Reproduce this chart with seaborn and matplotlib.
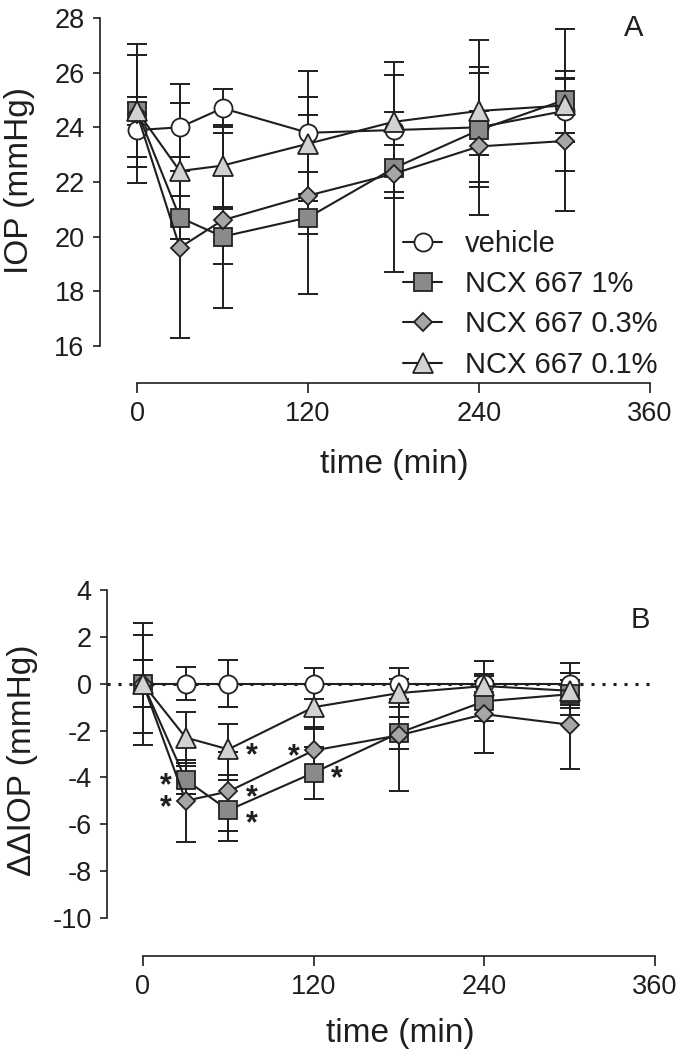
import numpy as np
import pandas as pd
import seaborn as sns
import matplotlib.pyplot as plt

sns.set_style("ticks")
plt.rcParams['font.family'] = ['Liberation Sans', 'DejaVu Sans']
plt.rcParams['axes.unicode_minus'] = False

# time points (min)
times = [0, 30, 60, 120, 180, 240, 300]
groups = ["vehicle", "NCX 667 1%", "NCX 667 0.3%", "NCX 667 0.1%"]

# panel A: IOP (mmHg), mean and error
iop_vehicle = [23.9, 24.0, 24.7, 23.8, 23.9, 24.0, 24.6]
iop_1pct = [24.6, 20.7, 20.0, 20.7, 22.5, 23.9, 25.0]
iop_03pct = [24.5, 19.6, 20.6, 21.5, 22.3, 23.3, 23.5]
iop_01pct = [24.6, 22.4, 22.6, 23.4, 24.2, 24.6, 24.8]
iop_err_vehicle = [1.0, 1.6, 0.7, 2.25, 2.5, 3.2, 1.15]
iop_err_1pct = [2.05, 0.8, 1.0, 0.6, 0.85, 2.1, 2.6]
iop_err_03pct = [2.55, 3.3, 3.2, 3.6, 3.6, 1.3, 2.55]
iop_err_01pct = [0.5, 2.5, 1.5, 1.05, 0.35, 1.6, 1.0]

# panel B: delta-delta IOP (mmHg), mean and error
dd_vehicle = [0, 0, 0, 0, 0, 0, 0]
dd_1pct = [0, -4.1, -5.4, -3.8, -2.1, -0.75, -0.45]
dd_03pct = [0, -5.0, -4.6, -2.85, -2.2, -1.3, -1.75]
dd_01pct = [0, -2.3, -2.8, -1.0, -0.4, -0.1, -0.3]
dd_err_vehicle = [2.6, 0.7, 1.0, 0.65, 0.65, 0.95, 0.9]
dd_err_1pct = [2.1, 0.6, 1.3, 1.1, 0.7, 0.85, 0.9]
dd_err_03pct = [1.0, 1.75, 1.7, 1.0, 2.4, 1.65, 1.9]
dd_err_01pct = [1.0, 1.1, 1.1, 0.95, 0.6, 0.5, 0.75]

# significance stars in panel B: (group, time, side)
stars = [("NCX 667 1%", 30, "left"), ("NCX 667 0.3%", 30, "left"),
         ("NCX 667 0.1%", 60, "right"), ("NCX 667 0.3%", 60, "right"),
         ("NCX 667 1%", 60, "right"), ("NCX 667 0.3%", 120, "left"),
         ("NCX 667 1%", 120, "right")]

styles = {
    "vehicle": dict(marker="o", markersize=13, markerfacecolor="white"),
    "NCX 667 1%": dict(marker="s", markersize=13, markerfacecolor="#8a8a8a"),
    "NCX 667 0.3%": dict(marker="D", markersize=9.5, markerfacecolor="#a6a6a6"),
    "NCX 667 0.1%": dict(marker="^", markersize=14, markerfacecolor="#d2d2d2"),
}
ink = "#1e1e1e"

dfA = pd.DataFrame({"time": times * 4,
                    "group": np.repeat(groups, len(times)),
                    "value": iop_vehicle + iop_1pct + iop_03pct + iop_01pct,
                    "err": iop_err_vehicle + iop_err_1pct + iop_err_03pct + iop_err_01pct})
dfB = pd.DataFrame({"time": times * 4,
                    "group": np.repeat(groups, len(times)),
                    "value": dd_vehicle + dd_1pct + dd_03pct + dd_01pct,
                    "err": dd_err_vehicle + dd_err_1pct + dd_err_03pct + dd_err_01pct})

W, H = 681, 1063
fig = plt.figure(figsize=(W / 100, H / 100), dpi=100)
# pixel layout of the two panels
axA = fig.add_axes([100 / W, 1 - 383 / H, 550 / W, 365 / H])
axB = fig.add_axes([107 / W, 1 - 956 / H, 548 / W, 366 / H])


def draw_panel(ax, df):
    for g in groups:
        d = df[df["group"] == g]
        ax.errorbar(d["time"], d["value"], yerr=d["err"], fmt="none",
                    ecolor=ink, elinewidth=1.4, capsize=7, capthick=1.4, zorder=2)
    for g in groups:
        d = df[df["group"] == g]
        sns.lineplot(data=d, x="time", y="value", ax=ax, color=ink, lw=1.5,
                     errorbar=None, label=g, markeredgecolor="#222222",
                     markeredgewidth=1.3, zorder=3, **styles[g])
    ax.spines["top"].set_visible(False)
    ax.spines["right"].set_visible(False)
    for s in ["left", "bottom"]:
        ax.spines[s].set_linewidth(1.2)
        ax.spines[s].set_color(ink)
    ax.spines["bottom"].set_bounds(0, 360)
    ax.set_xticks([0, 120, 240, 360])
    ax.tick_params(axis="both", width=1.2, color=ink, labelsize=19.5,
                   labelcolor=ink)
    ax.tick_params(axis="x", length=7, pad=6)
    ax.tick_params(axis="y", length=5, pad=6)
    ax.set_xlabel("time (min)", fontsize=24, color=ink)
    ax.xaxis.label.set_va("center")
    ax.yaxis.label.set_va("center")


draw_panel(axA, dfA)
axA.set_xlim(-26, 360)
axA.set_ylim(28 - 365 / 27.33, 28)
axA.spines["left"].set_bounds(16, 28)
axA.set_yticks(range(16, 29, 2))
axA.set_ylabel("IOP (mmHg)", fontsize=24, color=ink)
axA.xaxis.set_label_coords(0.5345, -0.2220)
axA.yaxis.set_label_coords(-0.1455, 0.556)
axA.text(634 / W, 1 - 28 / H, "A", transform=fig.transFigure, fontsize=21,
         ha="center", va="center", color=ink)
axA.legend(loc="upper left", bbox_to_anchor=(403 / W, 1 - 230 / H),
           bbox_transform=fig.transFigure, frameon=False, fontsize=21,
           handlelength=1.34, handletextpad=0.79, labelspacing=0.42,
           borderpad=0, borderaxespad=0, labelcolor=ink)

draw_panel(axB, dfB)
axB.get_legend().remove()
axB.axhline(0, color=ink, lw=2.2, linestyle=(0, (1, 2.6)), zorder=1)
axB.set_xlim(-25.3, 360)
axB.set_ylim(-10 - 38 / 23.43, 4)
axB.spines["left"].set_bounds(-10, 4)
axB.set_yticks(range(-10, 5, 2))
axB.set_ylabel("\u0394\u0394IOP (mmHg)", fontsize=24, color=ink)
axB.xaxis.set_label_coords(0.5347, -0.2130)
axB.yaxis.set_label_coords(-0.155, 0.5355)
axB.text(640 / W, 1 - 620 / H, "B", transform=fig.transFigure, fontsize=21,
         ha="center", va="center", color=ink)

for g, t, side in stars:
    y = dfB[(dfB["group"] == g) & (dfB["time"] == t)]["value"].iloc[0]
    dx = -14 if side == "left" else 17
    dy = -5
    # the lowest star at 60 min sits a little further down
    if g == "NCX 667 1%" and t == 60:
        dy = -10
    axB.annotate("*", (t, y), xytext=(dx, dy), textcoords="offset points",
                 ha="center", va="center", fontsize=22, fontweight="bold",
                 color=ink)

fig.savefig("out.png", dpi=100)
